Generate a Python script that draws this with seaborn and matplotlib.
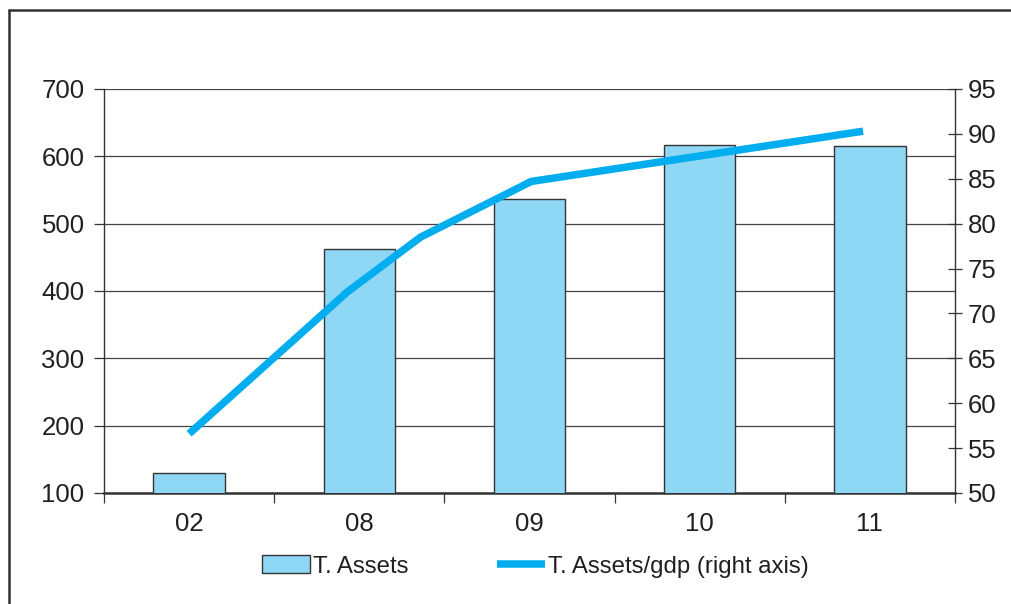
import matplotlib
matplotlib.use("Agg")
import matplotlib.pyplot as plt
from matplotlib.lines import Line2D
from matplotlib.patches import Patch
import seaborn as sns
import pandas as pd

# Total assets by year (left axis)
years = ["02", "08", "09", "10", "11"]
assets = [129, 463, 537, 617, 616]

# Total assets / GDP (right axis), placed along the category axis
ratio_pos = [0.0, 0.93, 1.36, 2.01, 3.96]
ratio_gdp = [56.6, 72.4, 78.5, 84.7, 90.3]

left_ticks = [100, 200, 300, 400, 500, 600, 700]
right_ticks = [50, 55, 60, 65, 70, 75, 80, 85, 90, 95]

bar_color = "#8ED8F6"
line_color = "#00AEEF"
ink = "#333333"
text_color = "#231F20"

sns.set_theme(style="white")
plt.rcParams["font.family"] = ["Liberation Sans", "DejaVu Sans"]

fig = plt.figure(figsize=(10.12, 6.04), dpi=100)
ax = fig.add_axes([104 / 1012, 1 - 493 / 604, 851 / 1012, 404 / 604])

bars_df = pd.DataFrame({"year": years, "assets": assets})
sns.barplot(data=bars_df, x="year", y="assets", ax=ax, color=bar_color,
            saturation=1, width=0.42, edgecolor=ink, linewidth=1.0, zorder=3)

ax.set_xlim(-0.5, len(years) - 0.5)
ax.set_ylim(left_ticks[0], left_ticks[-1])
ax.set_yticks(left_ticks)
ax.set_xlabel("")
ax.set_ylabel("")
ax.yaxis.grid(True, color="#444444", linewidth=0.9, zorder=0)
ax.xaxis.grid(False)
ax.set_axisbelow(True)

# Category boundary ticks on the x axis
ax.set_xticks([i - 0.5 for i in range(len(years) + 1)], minor=True)
ax.tick_params(axis="x", which="major", length=0, pad=14, labelsize=18.5,
               labelcolor=text_color)
ax.tick_params(axis="x", which="minor", direction="out", length=7,
               width=0.9, color=ink, bottom=True)
ax.tick_params(axis="y", direction="out", length=7, width=0.9, color=ink,
               pad=7, labelsize=18.5, labelcolor=text_color, left=True)

for side in ["top", "right"]:
    ax.spines[side].set_visible(False)
ax.spines["left"].set_color(ink)
ax.spines["left"].set_linewidth(1.0)
ax.spines["bottom"].set_color(ink)
ax.spines["bottom"].set_linewidth(1.8)

ax2 = ax.twinx()
line_df = pd.DataFrame({"pos": ratio_pos, "ratio": ratio_gdp})
sns.lineplot(data=line_df, x="pos", y="ratio", ax=ax2, color=line_color,
             linewidth=5.4, solid_capstyle="butt", zorder=4)
ax2.set_ylim(right_ticks[0], right_ticks[-1])
ax2.set_yticks(right_ticks)
ax2.set_ylabel("")
ax2.set_xlabel("")
ax2.grid(False)
ax2.tick_params(axis="y", direction="inout", length=10, width=0.9, color=ink,
                pad=4, labelsize=18.5, labelcolor=text_color, right=True)
for side in ["top", "left", "bottom"]:
    ax2.spines[side].set_visible(False)
ax2.spines["right"].set_color(ink)
ax2.spines["right"].set_linewidth(1.0)
ax.set_xlim(-0.5, len(years) - 0.5)

handles = [
    Patch(facecolor=bar_color, edgecolor=ink, linewidth=1.0),
    Line2D([0], [0], color=line_color, linewidth=5.4, solid_capstyle="butt"),
]
fig.legend(handles, ["T. Assets", "T. Assets/gdp (right axis)"],
           loc="center", bbox_to_anchor=(0.529, 0.062), ncol=2, frameon=False,
           fontsize=17.3, handlelength=2.0, handleheight=0.75,
           handletextpad=0.12, columnspacing=3.7, labelcolor=text_color)

# Outer frame along the top and left edges
fig.add_artist(Line2D([9 / 1012, 9 / 1012], [0, 1 - 10 / 604],
                      transform=fig.transFigure, color=ink, linewidth=1.8))
fig.add_artist(Line2D([9 / 1012, 1], [1 - 10 / 604, 1 - 10 / 604],
                      transform=fig.transFigure, color=ink, linewidth=1.8))

fig.savefig("out.png", dpi=100, facecolor="white")
